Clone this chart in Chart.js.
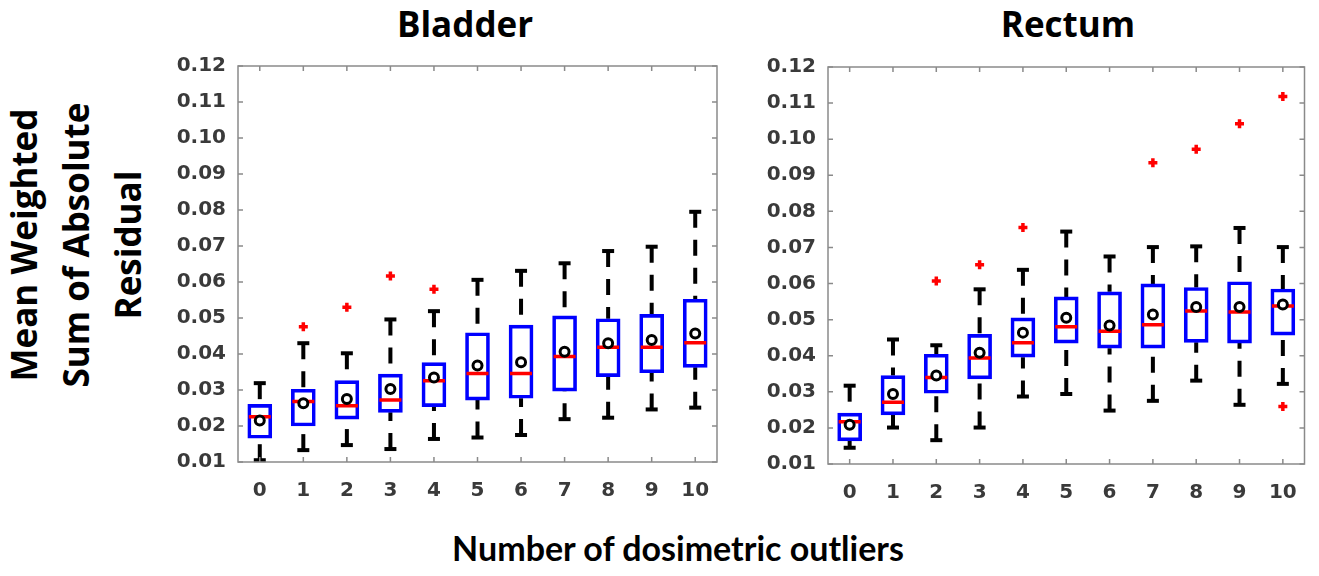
<!DOCTYPE html>
<html lang="en">
<head>
<meta charset="UTF-8">
<title>Bladder / Rectum residuals</title>
<script src="https://cdn.jsdelivr.net/npm/chart.js@4.4.1/dist/chart.umd.min.js"></script>
<style>
  body { margin: 0; background: #fff; width: 1319px; height: 576px; position: relative; overflow: hidden; }
  canvas { position: absolute; top: 0; }
  #left { left: 160px; }
  #right { left: 760px; }
  .txt { position: absolute; font-family: "Open Sans", sans-serif; font-weight: 700; color: #000; white-space: nowrap; }
  .panel-title { font-size: 35px; line-height: 35px; top: 6px; transform: translateX(-50%); }
  #xtitle { font-family: Lato, "Open Sans", sans-serif; font-size: 34px; line-height: 34px; top: 531px; left: 678px; transform: translateX(-50%); }
  #ytitle { font-size: 35px; line-height: 52px; width: 340px; height: 156px; text-align: center;
            left: -94px; top: 167px; transform: rotate(-90deg); }
</style>
</head>
<body>
<div class="txt panel-title" style="left:465px">Bladder</div>
<div class="txt panel-title" style="left:1068px">Rectum</div>
<div class="txt" id="ytitle">Mean Weighted<br>Sum of Absolute<br>Residual</div>
<div class="txt" id="xtitle">Number of dosimetric outliers</div>
<canvas id="left" width="600" height="500"></canvas>
<canvas id="right" width="559" height="500"></canvas>
<script>
// number of outliers on the x axis
const categories = ['0', '1', '2', '3', '4', '5', '6', '7', '8', '9', '10'];
const yTicks = [0.01, 0.02, 0.03, 0.04, 0.05, 0.06, 0.07, 0.08, 0.09, 0.10, 0.11, 0.12];

// Bladder
const bladderLow    = [0.0105, 0.0133, 0.0147, 0.0136, 0.0164, 0.0168, 0.0175, 0.0219, 0.0223, 0.0246, 0.0251];
const bladderQ1     = [0.0166, 0.0200, 0.0219, 0.0238, 0.0254, 0.0272, 0.0277, 0.0297, 0.0337, 0.0348, 0.0363];
const bladderMedian = [0.0226, 0.0268, 0.0256, 0.0272, 0.0326, 0.0346, 0.0346, 0.0393, 0.0419, 0.0419, 0.0431];
const bladderQ3     = [0.0260, 0.0302, 0.0326, 0.0344, 0.0376, 0.0459, 0.0480, 0.0506, 0.0498, 0.0510, 0.0552];
const bladderHigh   = [0.0319, 0.0430, 0.0402, 0.0496, 0.0519, 0.0606, 0.0631, 0.0652, 0.0686, 0.0698, 0.0795];
const bladderMean   = [0.0215, 0.0263, 0.0275, 0.0303, 0.0335, 0.0368, 0.0377, 0.0406, 0.0430, 0.0439, 0.0457];
const bladderOutliers = [['1', 0.0476], ['2', 0.0530], ['3', 0.0617], ['4', 0.0580]];

// Rectum
const rectumLow    = [0.0145, 0.0201, 0.0166, 0.0201, 0.0287, 0.0294, 0.0248, 0.0275, 0.0331, 0.0264, 0.0322];
const rectumQ1     = [0.0164, 0.0236, 0.0296, 0.0336, 0.0396, 0.0435, 0.0421, 0.0421, 0.0437, 0.0435, 0.0457];
const rectumMedian = [0.0217, 0.0271, 0.0340, 0.0394, 0.0436, 0.0480, 0.0468, 0.0486, 0.0524, 0.0521, 0.0538];
const rectumQ3     = [0.0241, 0.0345, 0.0404, 0.0459, 0.0505, 0.0563, 0.0577, 0.0599, 0.0589, 0.0605, 0.0585];
const rectumHigh   = [0.0317, 0.0445, 0.0429, 0.0584, 0.0638, 0.0744, 0.0675, 0.0701, 0.0703, 0.0754, 0.0701];
const rectumMean   = [0.0209, 0.0294, 0.0345, 0.0408, 0.0464, 0.0505, 0.0484, 0.0514, 0.0535, 0.0535, 0.0542];
const rectumOutliers = [['2', 0.0607], ['3', 0.0652], ['4', 0.0755], ['7', 0.0935], ['8', 0.0972],
                        ['9', 0.1043], ['10', 0.1118], ['10', 0.0259]];

// whiskers (dashed) + matlab style frame with inward ticks
const boxExtras = {
  id: 'boxExtras',
  beforeDatasetsDraw(chart, args, opts) {
    const ctx = chart.ctx, xs = chart.scales.x, ys = chart.scales.y;
    ctx.save();
    ctx.strokeStyle = '#000';
    ctx.lineWidth = 4;
    ctx.lineCap = 'butt';
    for (let i = 0; i < categories.length; i++) {
      const x = xs.getPixelForValue(i);
      const ends = [[opts.high[i], opts.q3[i]], [opts.low[i], opts.q1[i]]];
      ends.forEach(([w, b]) => {
        const yw = ys.getPixelForValue(w), yb = ys.getPixelForValue(b);
        ctx.setLineDash([16, 12]);
        ctx.beginPath();
        ctx.moveTo(x, yw);
        ctx.lineTo(x, yb);
        ctx.stroke();
        ctx.setLineDash([]);
        ctx.beginPath();
        ctx.moveTo(x - 6, yw);
        ctx.lineTo(x + 6, yw);
        ctx.stroke();
      });
    }
    ctx.restore();
  },
  afterDraw(chart) {
    const ctx = chart.ctx, a = chart.chartArea, xs = chart.scales.x, ys = chart.scales.y;
    ctx.save();
    ctx.strokeStyle = '#8a8a8a';
    ctx.lineWidth = 1.5;
    ctx.strokeRect(a.left, a.top, a.right - a.left, a.bottom - a.top);
    ctx.beginPath();
    for (let i = 0; i < categories.length; i++) {
      const x = xs.getPixelForValue(i);
      ctx.moveTo(x, a.bottom); ctx.lineTo(x, a.bottom - 5);
      ctx.moveTo(x, a.top); ctx.lineTo(x, a.top + 5);
    }
    yTicks.forEach(v => {
      const y = ys.getPixelForValue(v);
      ctx.moveTo(a.left, y); ctx.lineTo(a.left + 5, y);
      ctx.moveTo(a.right, y); ctx.lineTo(a.right - 5, y);
    });
    ctx.stroke();
    ctx.restore();
  }
};

function makePanel(id, d, geo) {
  const tickFont = { family: 'DejaVu Sans', weight: 'bold', size: 20 };
  return new Chart(document.getElementById(id), {
    type: 'bar',
    data: {
      labels: categories,
      datasets: [
        {
          data: d.q1.map((v, i) => [v, d.q3[i]]),
          backgroundColor: 'rgba(0,0,0,0)',
          borderColor: '#0000ff',
          borderWidth: 3,
          borderSkipped: false,
          barThickness: 24,
          order: 4
        },
        {
          type: 'line', data: d.median, showLine: false,
          pointStyle: 'line', pointRadius: 11, pointBorderWidth: 3.5,
          pointBorderColor: '#ff0000', order: 3
        },
        {
          type: 'line', data: d.mean, showLine: false,
          pointStyle: 'circle', pointRadius: 4.5, pointBorderWidth: 3,
          pointBorderColor: '#000', pointBackgroundColor: '#fff', order: 2
        },
        {
          type: 'line', data: d.outliers.map(o => ({ x: o[0], y: o[1] })), showLine: false,
          pointStyle: 'cross', pointRadius: 4.5, pointBorderWidth: 3.5,
          pointBorderColor: '#ff0000', order: 1
        }
      ]
    },
    options: {
      responsive: false,
      animation: false,
      events: [],
      layout: { padding: { top: geo.top, right: geo.right, left: 0, bottom: 0 } },
      scales: {
        x: {
          type: 'category',
          grid: { display: false },
          border: { display: false },
          ticks: { color: '#3a3a3a', font: tickFont, padding: 9, maxRotation: 0 },
          afterFit: s => { s.height = geo.xh; }
        },
        y: {
          min: 0.01, max: 0.12,
          grid: { display: false },
          border: { display: false },
          ticks: { color: '#3a3a3a', font: tickFont, padding: 4, callback: v => v.toFixed(2) },
          afterBuildTicks: s => { s.ticks = yTicks.map(v => ({ value: v })); },
          afterFit: s => { s.width = geo.yw; }
        }
      },
      plugins: {
        legend: { display: false },
        tooltip: { enabled: false },
        title: { display: false },
        boxExtras: { low: d.low, q1: d.q1, q3: d.q3, high: d.high }
      }
    },
    plugins: [boxExtras]
  });
}

makePanel('left', {
  low: bladderLow, q1: bladderQ1, median: bladderMedian, q3: bladderQ3,
  high: bladderHigh, mean: bladderMean, outliers: bladderOutliers
}, { top: 66, right: 43, xh: 38, yw: 78 });

makePanel('right', {
  low: rectumLow, q1: rectumQ1, median: rectumMedian, q3: rectumQ3,
  high: rectumHigh, mean: rectumMean, outliers: rectumOutliers
}, { top: 67, right: 10, xh: 36, yw: 68 });
</script>
</body>
</html>
